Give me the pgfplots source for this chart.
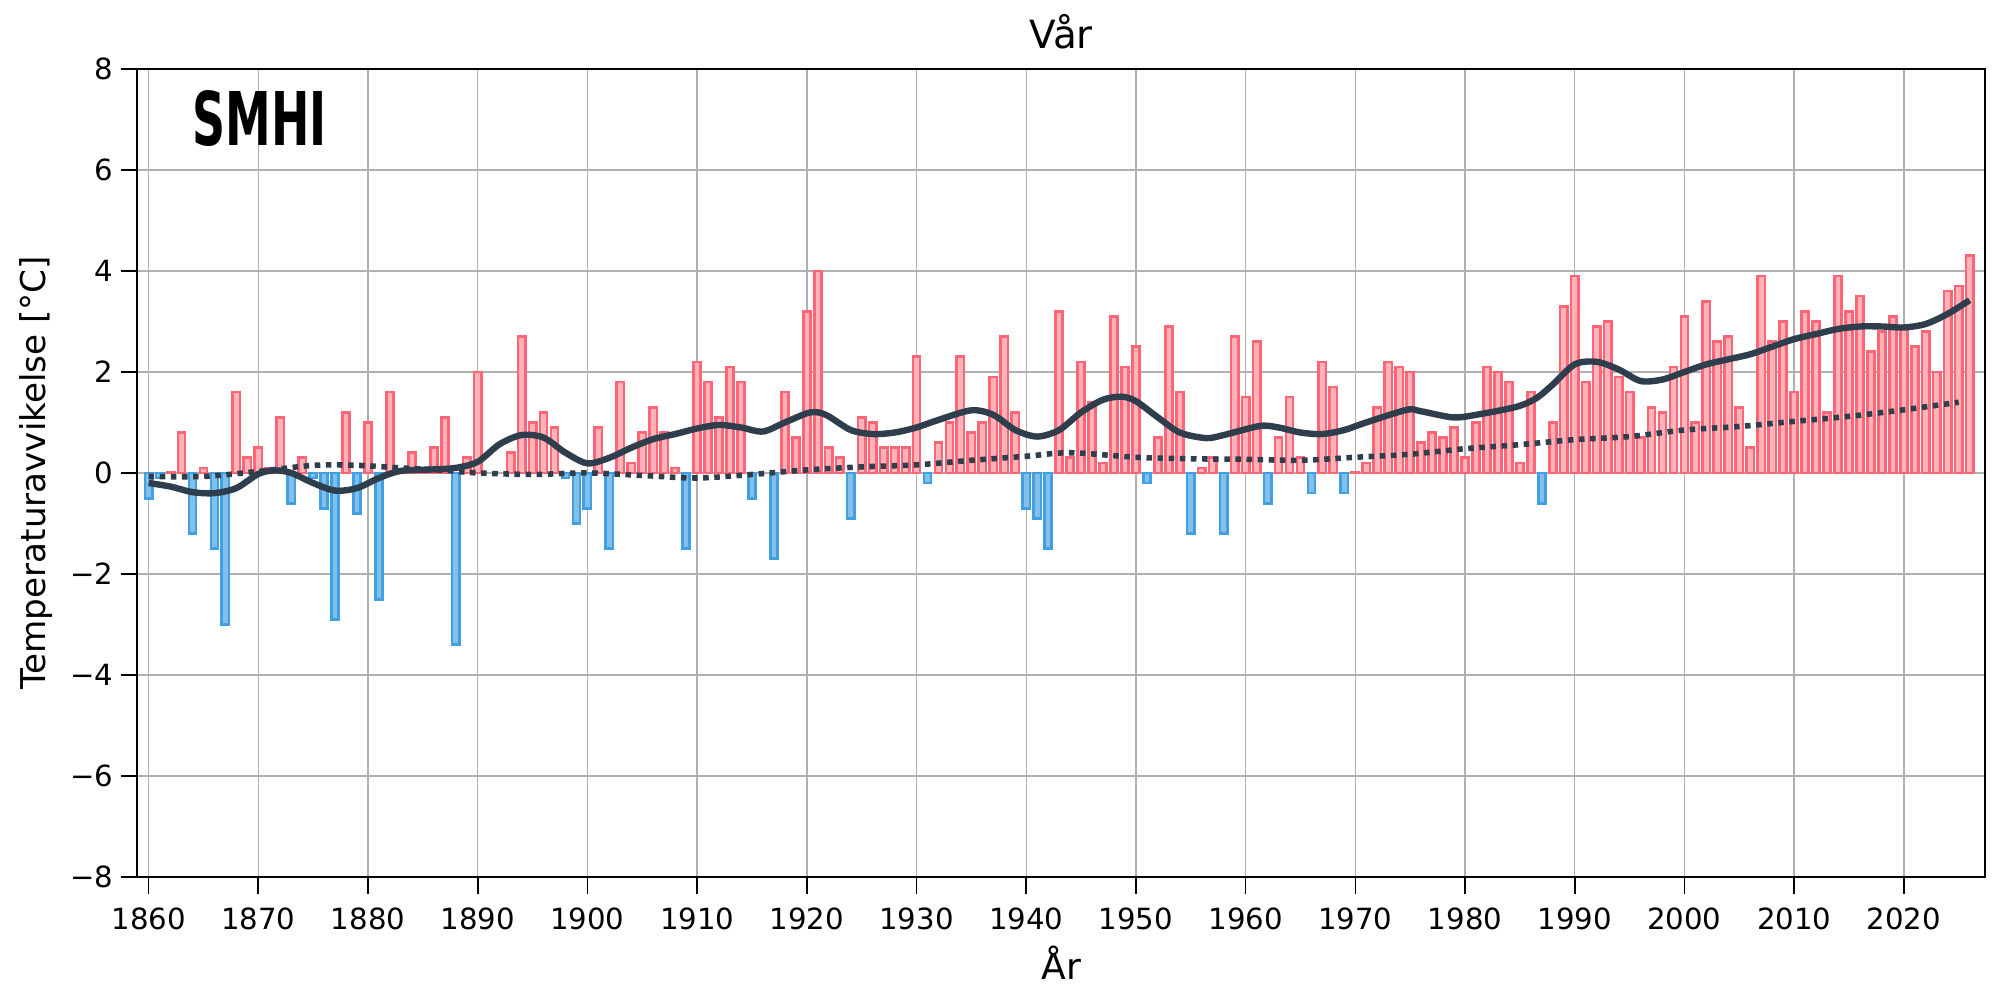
\documentclass[border=0pt]{standalone}
\usepackage{fontspec}
\setmainfont{DejaVu Sans}
\newfontfamily\logofont{DejaVu Sans Condensed}
\usepackage{graphicx}
\usepackage{pgfplots}
\pgfplotsset{compat=1.18}
\definecolor{redE}{RGB}{255,102,117}
\definecolor{redF}{RGB}{255,178,185}
\definecolor{bluE}{RGB}{64,160,225}
\definecolor{bluF}{RGB}{130,192,235}
\definecolor{lineC}{RGB}{47,62,76}
\definecolor{gridC}{RGB}{176,176,176}
\begin{document}
\begin{tikzpicture}
\useasboundingbox (0,0) rectangle (720pt,360pt);
\begin{axis}[
  at={(49.4pt,44.3pt)}, anchor=south west,
  width=665.2pt, height=290.9pt, scale only axis,
  xmin=1858.96, xmax=2027.4, ymin=-8, ymax=8,
  xtick={1860,1870,...,2020},
  xticklabels={1860,1870,1880,1890,1900,1910,1920,1930,1940,1950,1960,1970,1980,1990,2000,2010,2020},
  ytick={-8,-6,-4,-2,0,2,4,6,8},
  yticklabels={−8,−6,−4,−2,0,2,4,6,8},
  grid=major, grid style={color=gridC, line width=0.5pt},
  tick align=outside, tick pos=left, major tick length=6pt,
  tick style={black, line width=0.6pt},
  axis line style={black, line width=0.6pt},
  ticklabel style={font=\fontsize{10.5}{12}\selectfont},
  xticklabel style={yshift=-1.5pt},
  yticklabel style={xshift=1pt},
]
\addplot[ybar, bar width=0.66, draw=redE, fill=redF, line width=0.95pt] coordinates {
(1862,0.02)(1863,0.8)(1865,0.1)(1868,1.6)(1869,0.3)(1870,0.5)(1871,0.1)(1872,1.1)(1874,0.3)
(1878,1.2)(1880,1.0)(1882,1.6)(1883,0.05)(1884,0.4)(1885,0.1)(1886,0.5)(1887,1.1)(1889,0.3)
(1890,2.0)(1893,0.4)(1894,2.7)(1895,1.0)(1896,1.2)(1897,0.9)(1901,0.9)(1903,1.8)(1904,0.2)
(1905,0.8)(1906,1.3)(1907,0.8)(1908,0.1)(1910,2.2)(1911,1.8)(1912,1.1)(1913,2.1)(1914,1.8)
(1918,1.6)(1919,0.7)(1920,3.2)(1921,4.0)(1922,0.5)(1923,0.3)(1925,1.1)(1926,1.0)(1927,0.5)
(1928,0.5)(1929,0.5)(1930,2.3)(1932,0.6)(1933,1.0)(1934,2.3)(1935,0.8)(1936,1.0)(1937,1.9)
(1938,2.7)(1939,1.2)(1943,3.2)(1944,0.3)(1945,2.2)(1946,1.4)(1947,0.2)(1948,3.1)(1949,2.1)
(1950,2.5)(1952,0.7)(1953,2.9)(1954,1.6)(1956,0.1)(1957,0.3)(1959,2.7)(1960,1.5)(1961,2.6)
(1963,0.7)(1964,1.5)(1965,0.3)(1967,2.2)(1968,1.7)(1970,0.02)(1971,0.2)(1972,1.3)(1973,2.2)
(1974,2.1)(1975,2.0)(1976,0.6)(1977,0.8)(1978,0.7)(1979,0.9)(1980,0.3)(1981,1.0)(1982,2.1)
(1983,2.0)(1984,1.8)(1985,0.2)(1986,1.6)(1988,1.0)(1989,3.3)(1990,3.9)(1991,1.8)(1992,2.9)
(1993,3.0)(1994,1.9)(1995,1.6)(1996,0.7)(1997,1.3)(1998,1.2)(1999,2.1)(2000,3.1)(2001,1.0)
(2002,3.4)(2003,2.6)(2004,2.7)(2005,1.3)(2006,0.5)(2007,3.9)(2008,2.6)(2009,3.0)(2010,1.6)
(2011,3.2)(2012,3.0)(2013,1.2)(2014,3.9)(2015,3.2)(2016,3.5)(2017,2.4)(2018,2.8)(2019,3.1)
(2020,2.9)(2021,2.5)(2022,2.8)(2023,2.0)(2024,3.6)(2025,3.7)(2026,4.3)
};
\addplot[ybar, bar width=0.66, draw=bluE, fill=bluF, line width=0.95pt] coordinates {
(1860,-0.5)(1861,-0.1)(1864,-1.2)(1866,-1.5)(1867,-3.0)(1873,-0.6)(1875,-0.1)(1876,-0.7)
(1877,-2.9)(1879,-0.8)(1881,-2.5)(1888,-3.4)(1898,-0.1)(1899,-1.0)(1900,-0.7)(1902,-1.5)
(1909,-1.5)(1915,-0.5)(1917,-1.7)(1924,-0.9)(1931,-0.2)(1940,-0.7)(1941,-0.9)(1942,-1.5)
(1951,-0.2)(1955,-1.2)(1958,-1.2)(1962,-0.6)(1966,-0.4)(1969,-0.4)(1987,-0.6)
};
\addplot[lineC, line width=2pt, dash pattern=on 2pt off 2pt, smooth] coordinates {
(1860,-0.07)(1865,-0.07)(1870,0.03)(1875,0.15)(1879,0.15)(1883,0.1)(1887,0.05)(1890,0.0)
(1895,-0.03)(1900,0.0)(1905,-0.05)(1910,-0.1)(1915,-0.03)(1920,0.06)(1925,0.12)(1930,0.16)
(1935,0.25)(1940,0.33)(1944,0.4)(1950,0.31)(1955,0.28)(1960,0.27)(1965,0.25)(1970,0.31)
(1975,0.37)(1980,0.48)(1985,0.56)(1990,0.66)(1995,0.72)(2000,0.85)(2005,0.92)(2010,1.02)
(2015,1.12)(2020,1.25)(2025,1.4)
};
\addplot[lineC, line width=2.3pt, smooth] coordinates {
(1860,-0.2)(1862,-0.27)(1864,-0.38)(1866,-0.4)(1868,-0.3)(1870,-0.02)(1871.5,0.05)(1873,0.0)
(1875,-0.2)(1877,-0.35)(1879,-0.3)(1881,-0.1)(1883,0.04)(1886,0.07)(1888,0.1)(1890,0.22)
(1892,0.57)(1894,0.75)(1896,0.7)(1898,0.4)(1900,0.19)(1902,0.3)(1904,0.5)(1906,0.67)
(1908,0.77)(1910,0.88)(1912,0.95)(1914,0.9)(1916,0.82)(1918,1.0)(1920,1.18)(1921,1.2)(1922,1.12)
(1924,0.85)(1926,0.77)(1928,0.8)(1930,0.9)(1932,1.05)(1935,1.24)(1937,1.15)(1939,0.85)
(1941,0.72)(1943,0.85)(1945,1.2)(1947,1.45)(1948.7,1.51)(1950,1.42)(1952,1.1)(1954,0.8)
(1956.4,0.69)(1958,0.75)(1961.3,0.93)(1963,0.9)(1965,0.8)(1967,0.77)(1969,0.85)(1971,1.0)
(1974.7,1.25)(1976,1.22)(1978.9,1.1)(1981,1.15)(1984.7,1.31)(1986.5,1.48)(1988,1.75)
(1990,2.15)(1992,2.2)(1994,2.05)(1996,1.82)(1998,1.85)(2000,2.0)(2002,2.15)(2004,2.25)
(2006,2.35)(2008,2.5)(2010,2.65)(2012,2.75)(2014,2.85)(2016,2.9)(2018,2.9)(2020,2.88)
(2022,2.95)(2024,3.15)(2026,3.42)
};
\end{axis}
\node[anchor=base, inner sep=0] at (382pt,342.7pt) {\fontsize{14}{16}\selectfont Vår};
\node[anchor=base, inner sep=0] at (382pt,7.3pt) {\fontsize{13}{15}\selectfont År};
\node[anchor=base, rotate=90, inner sep=0] at (16.2pt,189.8pt) {\fontsize{12.3}{14}\selectfont Temperaturavvikelse [°C]};
\node[anchor=south west, inner sep=0] at (69.1pt,307.1pt) {\resizebox{48.3pt}{19.8pt}{\logofont\bfseries SMHI}};
\end{tikzpicture}
\end{document}
